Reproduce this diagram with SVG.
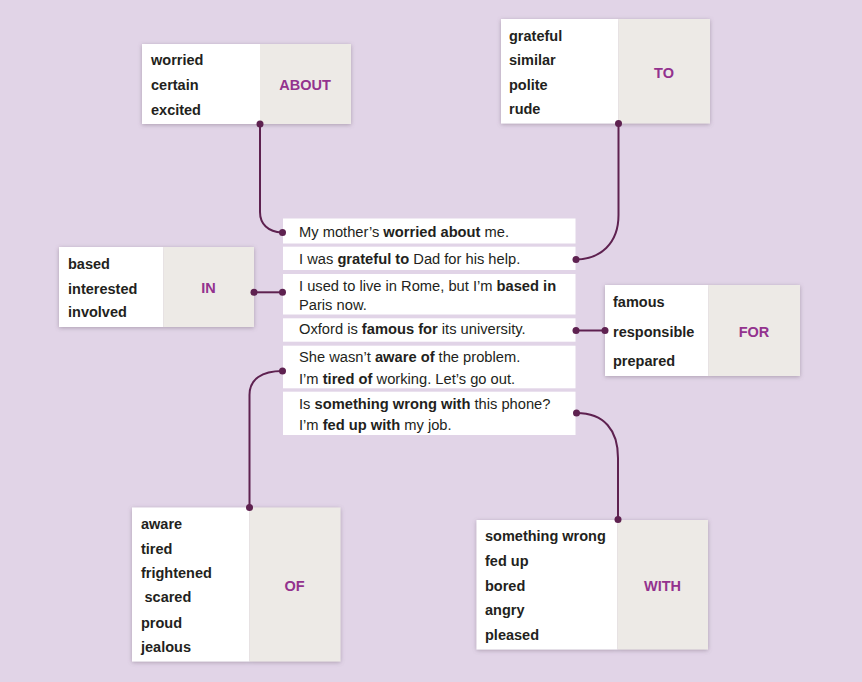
<svg xmlns="http://www.w3.org/2000/svg" width="862" height="682" viewBox="0 0 862 682">
<defs>
<filter id="sh" x="-10%" y="-10%" width="120%" height="125%">
<feDropShadow dx="0" dy="1" stdDeviation="2.2" flood-color="#6b5a70" flood-opacity="0.45"/>
</filter>
<style>
.w{fill:#ffffff}
.g{fill:#edeae6}
.wd{font-family:"Liberation Sans",Arial,sans-serif;font-weight:bold;font-size:14.5px;fill:#231f20}
.lb{font-family:"Liberation Sans",Arial,sans-serif;font-weight:bold;font-size:14.5px;fill:#93328e;text-anchor:middle}
.s{font-family:"Liberation Sans",Arial,sans-serif;font-size:14.7px;fill:#231f20}
.s tspan.b{font-weight:bold}
.c{fill:none;stroke:#5e2150;stroke-width:2}
.d{fill:#5e2150}
</style>
</defs>
<rect width="862" height="682" fill="#e1d4e7"/>

<g id="about">
<g filter="url(#sh)"><rect class="w" x="142" y="44" width="118" height="80"/><rect class="g" x="260" y="44" width="91" height="80"/></g>
<text class="wd" x="151" y="65">worried</text>
<text class="wd" x="151" y="90">certain</text>
<text class="wd" x="151" y="114.5">excited</text>
<text class="lb" x="305" y="89.5">ABOUT</text>
</g>

<g id="to">
<g filter="url(#sh)"><rect class="w" x="501" y="19" width="117.5" height="104.5"/><rect class="g" x="618.5" y="19" width="91.5" height="104.5"/></g>
<text class="wd" x="509" y="40.5">grateful</text>
<text class="wd" x="509" y="65">similar</text>
<text class="wd" x="509" y="90">polite</text>
<text class="wd" x="509" y="114">rude</text>
<text class="lb" x="664" y="77.5">TO</text>
</g>

<g id="in">
<g filter="url(#sh)"><rect class="w" x="59" y="247" width="104.5" height="80"/><rect class="g" x="163.5" y="247" width="90.5" height="80"/></g>
<text class="wd" x="68" y="268.5">based</text>
<text class="wd" x="68" y="293.5">interested</text>
<text class="wd" x="68" y="317">involved</text>
<text class="lb" x="208.5" y="293">IN</text>
</g>

<g id="for">
<g filter="url(#sh)"><rect class="w" x="605" y="285" width="103.5" height="91"/><rect class="g" x="708.5" y="285" width="91.5" height="91"/></g>
<text class="wd" x="613" y="306.5">famous</text>
<text class="wd" x="613" y="336.5">responsible</text>
<text class="wd" x="613" y="366">prepared</text>
<text class="lb" x="754" y="336.5">FOR</text>
</g>

<g id="of">
<g filter="url(#sh)"><rect class="w" x="132" y="507.5" width="117.5" height="154"/><rect class="g" x="249.5" y="507.5" width="91" height="154"/></g>
<text class="wd" x="141" y="528.5">aware</text>
<text class="wd" x="141" y="553.5">tired</text>
<text class="wd" x="141" y="577.5">frightened</text>
<text class="wd" x="144.5" y="602">scared</text>
<text class="wd" x="141" y="627.5">proud</text>
<text class="wd" x="141" y="652">jealous</text>
<text class="lb" x="294.5" y="590.5">OF</text>
</g>

<g id="with">
<g filter="url(#sh)"><rect class="w" x="476.5" y="520" width="141" height="129.5"/><rect class="g" x="617.5" y="520" width="90.5" height="129.5"/></g>
<text class="wd" x="485" y="541">something wrong</text>
<text class="wd" x="485" y="566">fed up</text>
<text class="wd" x="485" y="590.5">bored</text>
<text class="wd" x="485" y="614.5">angry</text>
<text class="wd" x="485" y="640">pleased</text>
<text class="lb" x="662.5" y="590.5">WITH</text>
</g>

<g id="sentences">
<rect class="w" x="283" y="218.5" width="292.5" height="25"/>
<rect class="w" x="283" y="246.7" width="292.5" height="23.3"/>
<rect class="w" x="283" y="274" width="292.5" height="40.5"/>
<rect class="w" x="283" y="318.3" width="292.5" height="23.4"/>
<rect class="w" x="283" y="345.7" width="292.5" height="42.6"/>
<rect class="w" x="283" y="391.7" width="292.5" height="43.3"/>
<text class="s" x="299" y="237">My mother’s <tspan class="b">worried about</tspan> me.</text>
<text class="s" x="299" y="263.5">I was <tspan class="b">grateful to</tspan> Dad for his help.</text>
<text class="s" x="299" y="291">I used to live in Rome, but I’m <tspan class="b">based in</tspan></text>
<text class="s" x="299" y="309.5">Paris now.</text>
<text class="s" x="299" y="334">Oxford is <tspan class="b">famous for</tspan> its university.</text>
<text class="s" x="299" y="361.5">She wasn’t <tspan class="b">aware of</tspan> the problem.</text>
<text class="s" x="299" y="383.5">I’m <tspan class="b">tired of</tspan> working. Let’s go out.</text>
<text class="s" x="299" y="408.5">Is <tspan class="b">something wrong with</tspan> this phone?</text>
<text class="s" x="299" y="430">I’m <tspan class="b">fed up with</tspan> my job.</text>
</g>

<g id="connectors">
<path class="c" d="M260 124 L260 212 C260 224 268 232 282 232.5"/>
<circle class="d" cx="260" cy="124" r="3.5"/><circle class="d" cx="282.5" cy="232.5" r="3.5"/>
<path class="c" d="M618.5 123.5 L618.5 215 C618.5 244 600 259 576 259.5"/>
<circle class="d" cx="618.5" cy="123.5" r="3.5"/><circle class="d" cx="576" cy="259.5" r="3.5"/>
<path class="c" d="M254 292.3 L282.5 292.3"/>
<circle class="d" cx="254" cy="292.3" r="3.5"/><circle class="d" cx="282.5" cy="292.3" r="3.5"/>
<path class="c" d="M576 330.5 L605 330.5"/>
<circle class="d" cx="576" cy="330.5" r="3.5"/><circle class="d" cx="605" cy="330.5" r="3.5"/>
<path class="c" d="M249.5 507.5 L249.5 395 C249.5 379 262 371 282.5 371"/>
<circle class="d" cx="249.5" cy="507.5" r="3.5"/><circle class="d" cx="282.5" cy="371" r="3.5"/>
<path class="c" d="M576.5 413 C604 413 618 430 618 458 L618 519.5"/>
<circle class="d" cx="576.5" cy="413" r="3.5"/><circle class="d" cx="618" cy="519.5" r="3.5"/>
</g>
</svg>
